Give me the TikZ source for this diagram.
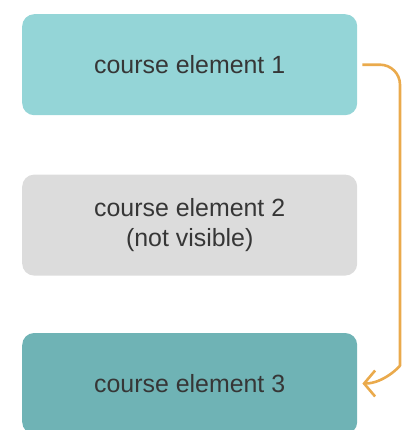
\documentclass[tikz,border=0pt]{standalone}
\usepackage{fontspec}
\setmainfont{Liberation Sans}
\usetikzlibrary{positioning,arrows.meta}
\definecolor{elemlight}{HTML}{94D5D7}
\definecolor{elemgrey}{HTML}{DCDCDC}
\definecolor{elemdark}{HTML}{6FB3B5}
\definecolor{flowcol}{HTML}{EAAA4C}
\definecolor{textcol}{HTML}{363636}

\begin{document}
\begin{tikzpicture}[x=1bp, y=1bp,
    element/.style={rectangle, rounded corners=12bp, draw=none,
        minimum width=335bp, minimum height=101bp, align=center,
        text=textcol, font=\fontsize{25}{31}\selectfont},
    flow/.style={draw=flowcol, line width=2.6bp,
        -{Straight Barb[length=11bp, width=26bp]}},
    node distance=59bp
]
\useasboundingbox (0,0) rectangle (411,-430);
\clip (0,0) rectangle (411,-430);

\node (E1) [element, fill=elemlight, anchor=north west] at (22,-14) {course element 1};
\node (E2) [element, fill=elemgrey, below=of E1] {course element 2\\(not visible)};
\node (E3) [element, fill=elemdark, below=57bp of E2] {course element 3};

\coordinate (turn) at (400,0 |- E3.east);
\draw[flow] ([xshift=5bp]E1.east) [rounded corners=20bp] -| ([yshift=38bp]turn)
    [sharp corners] to[out=-90, in=0] ([xshift=5bp]E3.east);
\end{tikzpicture}
\end{document}
